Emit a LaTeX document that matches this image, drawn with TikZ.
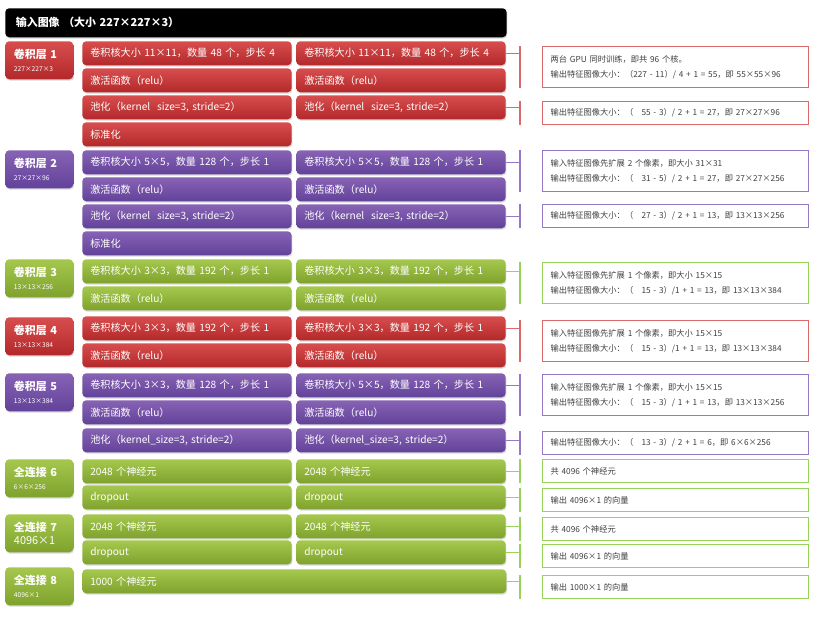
\documentclass[tikz,border=0pt]{standalone}
\usepackage{fontspec}
\setmainfont{Noto Sans CJK SC}
\usetikzlibrary{positioning,shadows}

\definecolor{redtop}{HTML}{D84E4E}
\definecolor{redbot}{HTML}{B3282A}
\definecolor{purtop}{HTML}{8763B4}
\definecolor{purbot}{HTML}{62429A}
\definecolor{grntop}{HTML}{A6C84E}
\definecolor{grnbot}{HTML}{7EA22D}
\definecolor{rednote}{HTML}{DC6A6A}
\definecolor{purnote}{HTML}{9579C4}
\definecolor{grnnote}{HTML}{98D35A}
\definecolor{notetext}{HTML}{404040}

\begin{document}
\begin{tikzpicture}[x=0.75pt, y=-0.75pt,
  blk/.style={rounded corners=3pt, anchor=north west, text=white, align=left, inner ysep=0pt,
    drop shadow={shadow xshift=0.6pt, shadow yshift=-1pt, opacity=0.3}},
  redfill/.style={top color=redtop, bottom color=redbot},
  purfill/.style={top color=purtop, bottom color=purbot},
  grnfill/.style={top color=grntop, bottom color=grnbot},
  title/.style={blk, fill=black, minimum height=21.75pt, text width=360pt, inner xsep=8pt, font=\bfseries\fontsize{8.2}{10}\selectfont},
  lyr/.style={blk, minimum height=28.5pt, text width=38pt, inner xsep=6.5pt, font=\fontsize{8.2}{10}\selectfont},
  op/.style={blk, minimum height=18pt, text width=145pt, inner xsep=6pt, font=\fontsize{7.6}{10}\selectfont},
  wideop/.style={op, text width=306pt},
  note/.style={draw, line width=0.9pt, fill=white, anchor=north west, text=notetext, align=left, text width=187.5pt, inner xsep=6pt, font=\fontsize{6.2}{11}\selectfont},
  note2/.style={note, minimum height=30.75pt},
  note1/.style={note, minimum height=17.25pt},
  link/.style={line width=0.9pt}
]
\useasboundingbox (0,0) rectangle (832,634);

% Input
\node[title] (in) at (5,8) {输入图像 （大小 227×227×3）};

% Conv layer 1
\node[lyr, redfill] (l1) at (5,41) {{\bfseries 卷积层 1}\\{\fontsize{5}{6}\selectfont 227×227×3}};
\foreach \c/\x in {a/82,b/296} {
  \foreach \i/\y/\t in {1/41/{卷积核大小 11×11，数量 48 个，步长 4},2/68/{激活函数（relu）},3/95/{池化（kernel\ \ size=3, stride=2）}}
    \node[op, redfill] (c1\c\i) at (\x,\y) {\t};
}
\node[op, redfill] (c1a4) at (82,122) {标准化};

% Conv layer 2
\node[lyr, purfill] (l2) at (5,150) {{\bfseries 卷积层 2}\\{\fontsize{5}{6}\selectfont 27×27×96}};
\foreach \c/\x in {a/82,b/296} {
  \foreach \i/\y/\t in {1/150/{卷积核大小 5×5，数量 128 个，步长 1},2/177/{激活函数（relu）},3/204/{池化（kernel\ \ size=3, stride=2）}}
    \node[op, purfill] (c2\c\i) at (\x,\y) {\t};
}
\node[op, purfill] (c2a4) at (82,231) {标准化};

% Conv layer 3
\node[lyr, grnfill] (l3) at (5,259) {{\bfseries 卷积层 3}\\{\fontsize{5}{6}\selectfont 13×13×256}};
\foreach \c/\x in {a/82,b/296} {
  \foreach \i/\y/\t in {1/259/{卷积核大小 3×3，数量 192 个，步长 1},2/286/{激活函数（relu）}}
    \node[op, grnfill] (c3\c\i) at (\x,\y) {\t};
}

% Conv layer 4
\node[lyr, redfill] (l4) at (5,317) {{\bfseries 卷积层 4}\\{\fontsize{5}{6}\selectfont 13×13×384}};
\foreach \c/\x in {a/82,b/296} {
  \foreach \i/\y/\t in {1/316/{卷积核大小 3×3，数量 192 个，步长 1},2/343/{激活函数（relu）}}
    \node[op, redfill] (c4\c\i) at (\x,\y) {\t};
}

% Conv layer 5
\node[lyr, purfill] (l5) at (5,373) {{\bfseries 卷积层 5}\\{\fontsize{5}{6}\selectfont 13×13×384}};
\node[op, purfill] (c5a1) at (82,373) {卷积核大小 3×3，数量 128 个，步长 1};
\node[op, purfill] (c5b1) at (296,373) {卷积核大小 5×5，数量 128 个，步长 1};
\foreach \c/\x in {a/82,b/296} {
  \foreach \i/\y/\t in {2/400/{激活函数（relu）},3/428/{池化（kernel\_size=3, stride=2）}}
    \node[op, purfill] (c5\c\i) at (\x,\y) {\t};
}

% Fully connected 6-8
\node[lyr, grnfill] (l6) at (5,459) {{\bfseries 全连接 6}\\{\fontsize{5}{6}\selectfont 6×6×256}};
\node[lyr, grnfill] (l7) at (5,514) {{\bfseries 全连接 7}\\4096×1};
\node[lyr, grnfill] (l8) at (5,567) {{\bfseries 全连接 8}\\{\fontsize{5}{6}\selectfont 4096×1}};
\foreach \c/\x in {a/82,b/296} {
  \foreach \k/\y in {6/459,7/514} {
    \node[op, grnfill] (f\k\c1) at (\x,\y) {2048 个神经元};
    \node[op, grnfill] (f\k\c2) at (\x,\y+26) {dropout};
  }
}
\node[wideop, grnfill] (f8) at (82,569) {1000 个神经元};

% Notes
\node[note2, draw=rednote] (n1) at (542,46) {两台 GPU 同时训练，即共 96 个核。\\输出特征图像大小：（227 - 11）/ 4 + 1 = 55，即 55×55×96};
\node[note1, draw=rednote] (n2) at (542,101) {输出特征图像大小：（\quad 55 - 3）/ 2 + 1 = 27，即 27×27×96};
\node[note2, draw=purnote] (n3) at (542,150) {输入特征图像先扩展 2 个像素，即大小 31×31\\输出特征图像大小：（\quad 31 - 5）/ 2 + 1 = 27，即 27×27×256};
\node[note1, draw=purnote] (n4) at (542,204) {输出特征图像大小：（\quad 27 - 3）/ 2 + 1 = 13，即 13×13×256};
\node[note2, draw=grnnote] (n5) at (542,262) {输入特征图像先扩展 1 个像素，即大小 15×15\\输出特征图像大小：（\quad 15 - 3）/1 + 1 = 13，即 13×13×384};
\node[note2, draw=rednote] (n6) at (542,320) {输入特征图像先扩展 1 个像素，即大小 15×15\\输出特征图像大小：（\quad 15 - 3）/1 + 1 = 13，即 13×13×384};
\node[note2, draw=purnote] (n7) at (542,374) {输入特征图像先扩展 1 个像素，即大小 15×15\\输出特征图像大小：（\quad 15 - 3）/ 1 + 1 = 13，即 13×13×256};
\node[note1, draw=purnote] (n8) at (542,431) {输出特征图像大小：（\quad 13 - 3）/ 2 + 1 = 6，即 6×6×256};
\node[note1, draw=grnnote] (n9) at (542,459) {共 4096 个神经元};
\node[note1, draw=grnnote] (n10) at (542,488) {输出 4096×1 的向量};
\node[note1, draw=grnnote] (n11) at (542,517) {共 4096 个神经元};
\node[note1, draw=grnnote] (n12) at (542,544) {输出 4096×1 的向量};
\node[note1, draw=grnnote] (n13) at (542,575) {输出 1000×1 的向量};

% brackets
\coordinate (bk) at (520,0);
\foreach \n/\r/\col in {n1/c1b1/rednote,n2/c1b3/rednote,n3/c2b1/purnote,n4/c2b3/purnote,
    n5/c3b1/grnnote,n6/c4b1/rednote,n7/c5b1/purnote,n8/c5b3/purnote,
    n9/f6b1/grnnote,n10/f6b2/grnnote,n11/f7b1/grnnote,n12/f7b2/grnnote,n13/f8/grnnote} {
  \draw[link, \col] (\r.east) -- (bk |- \r.east);
  \draw[link, \col] (bk |- \n.north) -- (bk |- \n.south);
}
\end{tikzpicture}
\end{document}
